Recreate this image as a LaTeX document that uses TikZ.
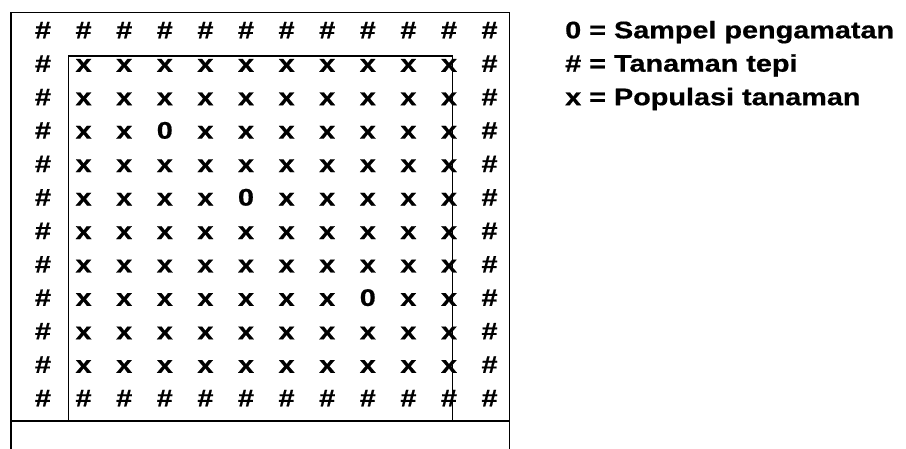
\documentclass[tikz,border=0pt]{standalone}
\usepackage{fontspec}
\setmainfont{Liberation Sans}
\newfontfamily\heavyfont{Liberation Sans Bold}[FakeBold=0.6]
\newcommand{\wide}[1]{\scalebox{1.2}[1]{#1}}
\begin{document}
\begin{tikzpicture}[x=1pt,y=-1pt,
  cell/.style={anchor=base,inner sep=0pt,font=\heavyfont\fontsize{24}{28}\selectfont},
  legend/.style={anchor=base west,inner sep=0pt,font=\heavyfont\fontsize{24}{28}\selectfont},
  outerline/.style={line width=1.7pt,black},
  innerline/.style={line width=1.3pt,black}]
\useasboundingbox (0,0) rectangle (906,448);
% grid
\foreach \r in {1,...,12}{
  \foreach \c in {1,...,12}{
    \pgfmathsetmacro{\xx}{43+(\c-1)*40.6}
    \pgfmathsetmacro{\yy}{38.3+(\r-1)*33.45}
    \def\sym{x}
    \ifnum\r=1 \def\sym{\#}\fi
    \ifnum\r=12 \def\sym{\#}\fi
    \ifnum\c=1 \def\sym{\#}\fi
    \ifnum\c=12 \def\sym{\#}\fi
    \ifnum\r=4 \ifnum\c=4 \def\sym{0}\fi\fi
    \ifnum\r=6 \ifnum\c=6 \def\sym{0}\fi\fi
    \ifnum\r=9 \ifnum\c=9 \def\sym{0}\fi\fi
    \node[cell] (g-\r-\c) at (\xx,\yy) {\wide{\sym}};
  }
}
% outer frame
\coordinate (oTL) at (11,12.5);
\coordinate (oTR) at (509.5,12.5);
\coordinate (oBL) at (11,449);
\coordinate (oBR) at (509.5,449);
\coordinate (oML) at (11,421);
\coordinate (oMR) at (509.5,421);
\draw[outerline] (oBL) -- (oTL) -- (oTR) -- (oBR);
\draw[outerline] (oML) -- (oMR);
% inner frame
\coordinate (iTL) at (68.3,56);
\coordinate (iTR) at (452.3,56);
\coordinate (iBL) at (68.3,421);
\coordinate (iBR) at (452.3,421);
\draw[innerline] (iBL) -- (iTL) -- (iTR) -- (iBR);
% legend
\node[legend] (leg1) at (565,38.3) {\wide{0 = Sampel pengamatan}};
\node[legend] (leg2) at (565,71.7) {\wide{\# = Tanaman tepi}};
\node[legend] (leg3) at (565,105.2) {\wide{x = Populasi tanaman}};
\end{tikzpicture}
\end{document}
